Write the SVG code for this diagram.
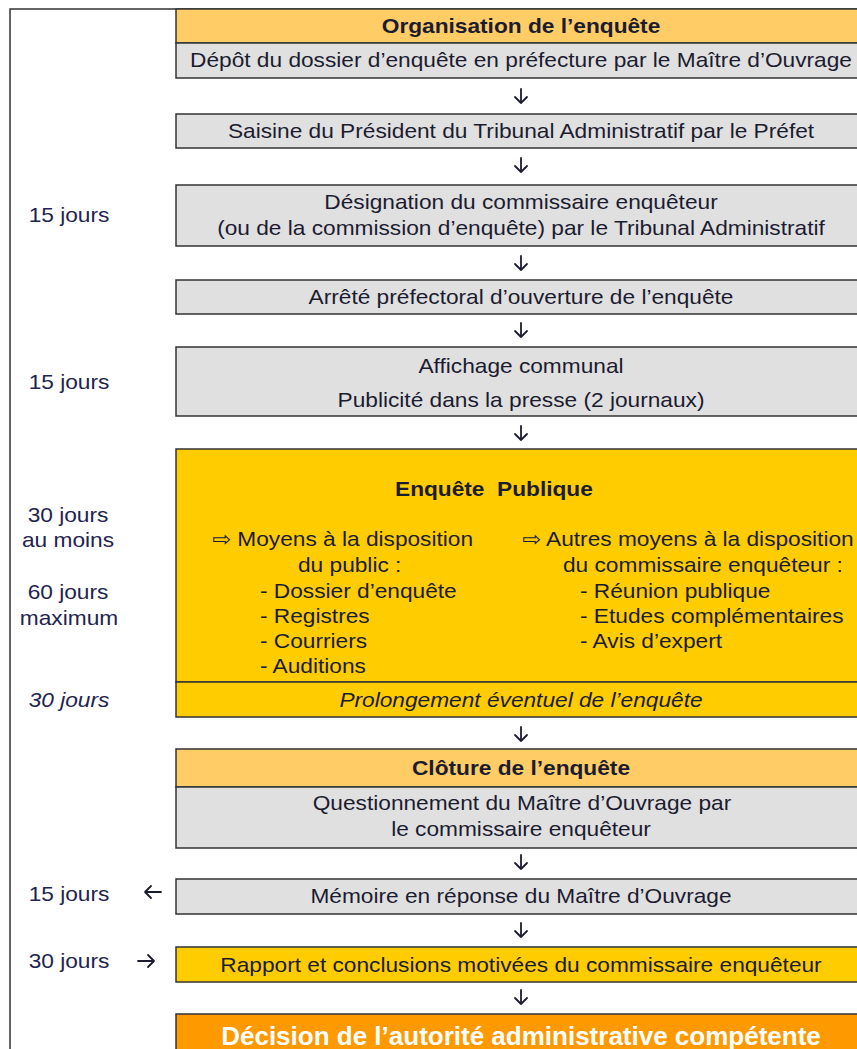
<svg xmlns="http://www.w3.org/2000/svg" width="857" height="1049" viewBox="0 0 857 1049">
<style>
.frame{fill:none;stroke:#333;stroke-width:1.5}
.box{stroke:#333;stroke-width:1.5}
.hdr{fill:#FFCC66}
.gry{fill:#E0E0E0}
.yel{fill:#FFCC00}
.dec{fill:#FF9900}
text{font-family:"Liberation Sans",Arial,"DejaVu Sans",sans-serif;font-size:20px;fill:#1c1c30}
.c{text-anchor:middle}
.b{font-weight:bold}
.i{font-style:italic}
.lab{fill:#1f2450}
.w{fill:#ffffff;font-size:26px;font-weight:bold}
.arr{fill:none;stroke:#1c1c30;stroke-width:1.8;stroke-linecap:round;stroke-linejoin:round}
</style>
<rect width="857" height="1049" fill="#ffffff"/>
<path class="frame" d="M10 1060 V9 H870"/>

<g id="organisation">
<rect class="box hdr" x="176" y="9" width="700" height="34"/>
<rect class="box gry" x="176" y="43" width="700" height="35"/>
<text class="c b" transform="translate(521 33) scale(1.135 1)">Organisation de l’enquête</text>
<text class="c" transform="translate(521 67) scale(1.135 1)">Dépôt du dossier d’enquête en préfecture par le Maître d’Ouvrage</text>
</g>

<g id="saisine">
<rect class="box gry" x="176" y="114" width="700" height="34"/>
<text class="c" transform="translate(521 138) scale(1.135 1)">Saisine du Président du Tribunal Administratif par le Préfet</text>
</g>

<g id="designation">
<rect class="box gry" x="176" y="185" width="700" height="61"/>
<text class="c" transform="translate(521 209) scale(1.135 1)">Désignation du commissaire enquêteur</text>
<text class="c" transform="translate(521 235) scale(1.135 1)">(ou de la commission d’enquête) par le Tribunal Administratif</text>
</g>

<g id="arrete">
<rect class="box gry" x="176" y="280" width="700" height="34"/>
<text class="c" transform="translate(521 304) scale(1.135 1)">Arrêté préfectoral d’ouverture de l’enquête</text>
</g>

<g id="affichage">
<rect class="box gry" x="176" y="347" width="700" height="69"/>
<text class="c" transform="translate(521 373) scale(1.135 1)">Affichage communal</text>
<text class="c" transform="translate(521 407) scale(1.135 1)">Publicité dans la presse (2 journaux)</text>
</g>

<g id="enquete">
<rect class="box yel" x="176" y="449" width="700" height="233"/>
<rect class="box yel" x="176" y="682" width="700" height="35"/>
<text class="b" xml:space="preserve" transform="translate(395 496) scale(1.135 1)">Enquête  Publique</text>
<text transform="translate(212 546) scale(1.135 1)">⇨ Moyens à la disposition</text>
<text transform="translate(298 572) scale(1.135 1)">du public :</text>
<text transform="translate(260 598) scale(1.135 1)">- Dossier d’enquête</text>
<text transform="translate(260 623) scale(1.135 1)">- Registres</text>
<text transform="translate(260 648) scale(1.135 1)">- Courriers</text>
<text transform="translate(260 673) scale(1.135 1)">- Auditions</text>
<text transform="translate(522 546) scale(1.135 1)">⇨ Autres moyens à la disposition</text>
<text transform="translate(563 572) scale(1.135 1)">du commissaire enquêteur :</text>
<text transform="translate(580 598) scale(1.135 1)">- Réunion publique</text>
<text transform="translate(580 623) scale(1.135 1)">- Etudes complémentaires</text>
<text transform="translate(580 648) scale(1.135 1)">- Avis d’expert</text>
<text class="c i" transform="translate(521 707) scale(1.135 1)">Prolongement éventuel de l’enquête</text>
</g>

<g id="cloture">
<rect class="box hdr" x="176" y="749" width="700" height="38"/>
<rect class="box gry" x="176" y="787" width="700" height="61"/>
<text class="c b" transform="translate(521 775) scale(1.135 1)">Clôture de l’enquête</text>
<text class="c" transform="translate(522 810) scale(1.135 1)">Questionnement du Maître d’Ouvrage par</text>
<text class="c" transform="translate(521 836) scale(1.135 1)">le commissaire enquêteur</text>
</g>

<g id="memoire">
<rect class="box gry" x="176" y="879" width="700" height="35"/>
<text class="c" transform="translate(521 903) scale(1.135 1)">Mémoire en réponse du Maître d’Ouvrage</text>
</g>

<g id="rapport">
<rect class="box yel" x="176" y="947" width="700" height="35"/>
<text class="c" transform="translate(521 972) scale(1.135 1)">Rapport et conclusions motivées du commissaire enquêteur</text>
</g>

<g id="decision">
<rect class="box dec" x="176" y="1014" width="700" height="50"/>
<text class="c w" x="521" y="1045">Décision de l’autorité administrative compétente</text>
</g>

<g id="durees">
<text class="c lab" transform="translate(69 222) scale(1.135 1)">15 jours</text>
<text class="c lab" transform="translate(69 389) scale(1.135 1)">15 jours</text>
<text class="c lab" transform="translate(68 522) scale(1.135 1)">30 jours</text>
<text class="c lab" transform="translate(68 547) scale(1.135 1)">au moins</text>
<text class="c lab" transform="translate(68 599) scale(1.135 1)">60 jours</text>
<text class="c lab" transform="translate(69 625) scale(1.135 1)">maximum</text>
<text class="c lab i" transform="translate(69 707) scale(1.135 1)">30 jours</text>
<text class="c lab" transform="translate(69 901) scale(1.135 1)">15 jours</text>
<text class="c lab" transform="translate(69 968) scale(1.135 1)">30 jours</text>
</g>

<g id="connectors">
<path class="arr" d="M521 89 V103 M515 97 L521 103 L527 97"/>
<path class="arr" d="M521 158 V172 M515 166 L521 172 L527 166"/>
<path class="arr" d="M521 256 V270 M515 264 L521 270 L527 264"/>
<path class="arr" d="M521 323 V337 M515 331 L521 337 L527 331"/>
<path class="arr" d="M521 426 V440 M515 434 L521 440 L527 434"/>
<path class="arr" d="M521 727 V741 M515 735 L521 741 L527 735"/>
<path class="arr" d="M521 855 V869 M515 863 L521 869 L527 863"/>
<path class="arr" d="M521 923 V937 M515 931 L521 937 L527 931"/>
<path class="arr" d="M521 990 V1004 M515 998 L521 1004 L527 998"/>
<path class="arr" d="M161 892 H145 M151 886 L145 892 L151 898"/>
<path class="arr" d="M138 961 H154 M148 955 L154 961 L148 967"/>
</g>
</svg>
